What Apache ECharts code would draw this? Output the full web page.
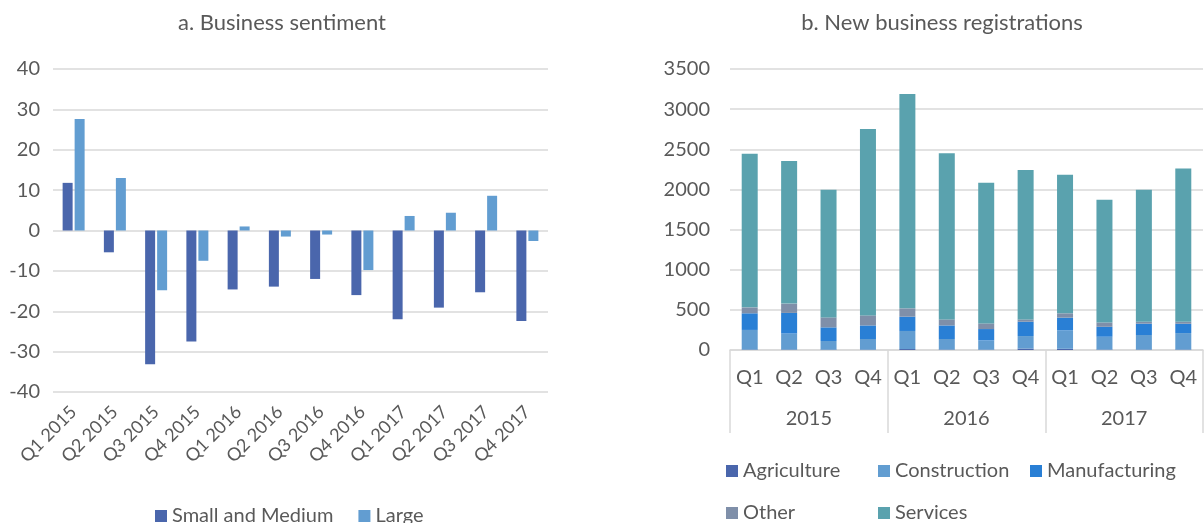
<!DOCTYPE html>
<html>
<head>
<meta charset="utf-8">
<script src="https://cdn.jsdelivr.net/npm/echarts@6/dist/echarts.min.js"></script>
<style>
  html, body { margin: 0; padding: 0; background: #fff; }
  #chart { width: 1204px; height: 523px; }
</style>
</head>
<body>
<div id="chart"></div>
<script>
// panel a: business sentiment
const quarterLabels = ["Q1 2015", "Q2 2015", "Q3 2015", "Q4 2015", "Q1 2016", "Q2 2016",
    "Q3 2016", "Q4 2016", "Q1 2017", "Q2 2017", "Q3 2017", "Q4 2017"];
const smallMedium = [11.8, -5.4, -33.1, -27.5, -14.6, -13.9, -12.0, -16.0, -22.0, -19.1, -15.3, -22.4];
const large = [27.6, 13.0, -14.8, -7.5, 1.0, -1.5, -1.0, -9.8, 3.6, 4.4, 8.6, -2.6];

// panel b: new business registrations
const quarters = ["Q1", "Q2", "Q3", "Q4", "Q1", "Q2", "Q3", "Q4", "Q1", "Q2", "Q3", "Q4"];
const years = ["2015", "2016", "2017"];
const agriculture = [5, 5, 4, 4, 12, 5, 4, 18, 15, 5, 5, 5];
const construction = [245, 200, 108, 133, 225, 132, 116, 156, 230, 160, 182, 206];
const manufacturing = [207, 257, 170, 169, 178, 169, 141, 178, 158, 124, 141, 116];
const other = [74, 116, 124, 125, 104, 75, 70, 29, 54, 54, 24, 25];
const services = [1914, 1775, 1590, 2323, 2670, 2071, 1752, 1860, 1727, 1528, 1644, 1910];

const textColor = "#595959";
const gridColor = "#d9d9d9";
const font = "Lato";

const chart = echarts.init(document.getElementById("chart"));

function stack(name, data, color) {
    return {
        name: name,
        type: "bar",
        stack: "reg",
        xAxisIndex: 1,
        yAxisIndex: 1,
        barWidth: 16,
        itemStyle: { color: color },
        data: data,
    };
}

// one legend per slot so the columns line up like the original
function legendAt(name, left, top) {
    return {
        data: [name],
        left: left, top: top,
        itemWidth: 12, itemHeight: 12,
        icon: "rect",
        textStyle: { color: textColor, fontSize: 20, fontFamily: font },
    };
}

const option = {
    animation: false,
    textStyle: { fontFamily: font },
    title: [
        {
            text: "a. Business sentiment",
            left: 277, top: 7, textAlign: "center",
            textStyle: { color: textColor, fontSize: 22, fontWeight: "normal", fontFamily: font },
        },
        {
            text: "b. New business registrations",
            left: 937, top: 7, textAlign: "center",
            textStyle: { color: textColor, fontSize: 22, fontWeight: "normal", fontFamily: font },
        },
    ],
    legend: [
        {
            data: ["Small and Medium", "Large"],
            left: 150, top: 501,
            itemWidth: 12, itemHeight: 12, itemGap: 25,
            icon: "rect",
            textStyle: { color: textColor, fontSize: 20, fontFamily: font },
        },
        legendAt("Agriculture", 721, 456),
        legendAt("Construction", 873, 456),
        legendAt("Manufacturing", 1025, 456),
        legendAt("Other", 721, 498),
        legendAt("Services", 873, 498),
    ],
    grid: [
        { left: 53, right: 656, top: 69, bottom: 131 },
        { left: 730, right: 1, top: 69, bottom: 173 },
    ],
    xAxis: [
        {
            type: "category",
            gridIndex: 0,
            data: quarterLabels,
            axisLine: { show: false, onZero: false },
            axisTick: { show: false },
            axisLabel: { rotate: 45, margin: 17, color: textColor, fontSize: 18, fontFamily: font, interval: 0 },
        },
        {
            type: "category",
            gridIndex: 1,
            data: quarters,
            axisLine: { show: true, lineStyle: { color: gridColor, width: 1.5 } },
            axisTick: { show: false },
            axisLabel: { margin: 18, color: textColor, fontSize: 20, fontFamily: font, interval: 0 },
        },
        {
            type: "category",
            gridIndex: 1,
            position: "bottom",
            data: years,
            axisLine: { show: false },
            axisTick: { show: true, length: 83, lineStyle: { color: gridColor, width: 1.5 } },
            axisLabel: { margin: 59, color: textColor, fontSize: 20, fontFamily: font },
        },
    ],
    yAxis: [
        {
            type: "value",
            gridIndex: 0,
            min: -40, max: 40, interval: 10,
            axisLine: { show: false },
            axisTick: { show: false },
            axisLabel: { margin: 13, color: textColor, fontSize: 20, fontFamily: font },
            splitLine: { lineStyle: { color: gridColor, width: 1.5 } },
        },
        {
            type: "value",
            gridIndex: 1,
            min: 0, max: 3500, interval: 500,
            axisLine: { show: false },
            axisTick: { show: false },
            axisLabel: {
                margin: 20, color: textColor, fontSize: 20, fontFamily: font,
                formatter: function (v) { return String(v); },
            },
            splitLine: { lineStyle: { color: gridColor, width: 1.5 } },
        },
    ],
    series: [
        {
            name: "Small and Medium",
            type: "bar",
            xAxisIndex: 0, yAxisIndex: 0,
            barWidth: 10, barGap: "20%",
            itemStyle: { color: "#4a66ac" },
            data: smallMedium,
        },
        {
            name: "Large",
            type: "bar",
            xAxisIndex: 0, yAxisIndex: 0,
            barWidth: 10, barGap: "20%",
            itemStyle: { color: "#629dd1" },
            data: large,
        },
        stack("Agriculture", agriculture, "#4a66ac"),
        stack("Construction", construction, "#629dd1"),
        stack("Manufacturing", manufacturing, "#297fd5"),
        stack("Other", other, "#7f8fa9"),
        stack("Services", services, "#5aa2ae"),
    ],
};

chart.setOption(option);
</script>
</body>
</html>
